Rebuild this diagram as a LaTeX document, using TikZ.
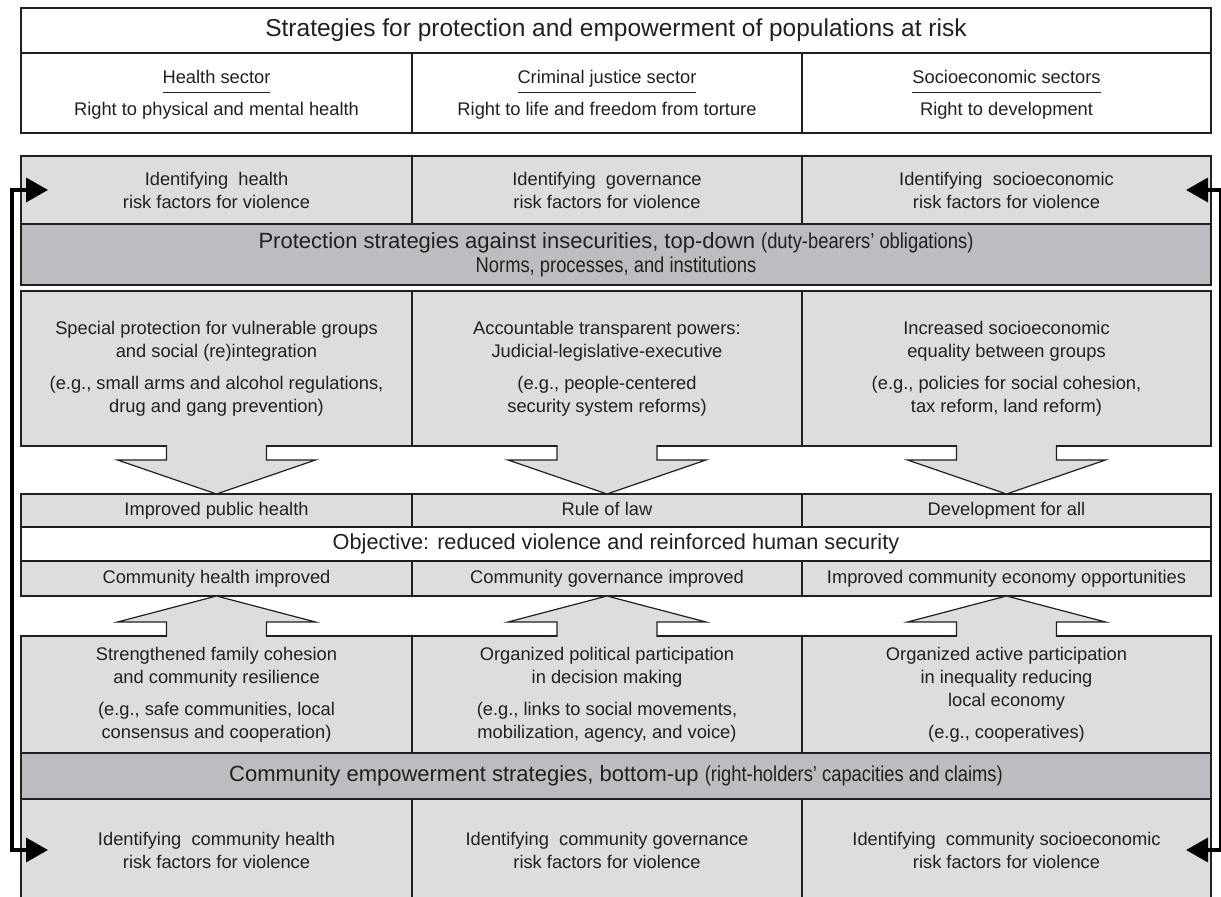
\documentclass[tikz,border=0pt]{standalone}
\usepackage{fontspec}
\setmainfont{Liberation Sans}
\newfontfamily\narrowfont[FakeStretch=0.85]{Liberation Sans}
\usetikzlibrary{arrows.meta,positioning}

\definecolor{cellgray}{RGB}{220,221,223}
\definecolor{bandgray}{RGB}{188,189,192}
\definecolor{ink}{RGB}{35,31,32}

\newcommand{\bodysize}{\fontsize{9.15}{11.5}\selectfont}
\newcommand{\titlesize}{\fontsize{12.25}{14}\selectfont}
\newcommand{\headsize}{\fontsize{11}{13}\selectfont}
\newcommand{\objsize}{\fontsize{10.85}{13}\selectfont}
\newcommand{\narrow}[1]{{\narrowfont\fontsize{10.8}{12}\selectfont #1}}
\newcommand{\sectorhead}[2]{\underline{#1\strut}\\[3pt]#2}

\begin{document}
\begin{tikzpicture}[x=0.5pt,y=-0.5pt,
  every node/.style={text=ink,font=\bodysize,align=center,inner sep=0pt,outer sep=0pt},
  frame/.style={draw=ink,line width=0.8pt,fill=white},
  cell/.style={draw=ink,line width=0.6pt,fill=cellgray},
  oneline/.style={text height=6.6pt,text depth=1.9pt},
  band/.style={draw=ink,line width=0.6pt,fill=bandgray,minimum width=595pt},
  wide/.style={minimum width=595pt},
  colA/.style={minimum width=195.5pt},
  colB/.style={minimum width=195pt},
  colC/.style={minimum width=204.5pt},
  blockarrow/.style={draw=ink,line width=0.6pt,fill=cellgray},
  feedback/.style={line width=1.8pt,{Triangle[length=11pt,width=12pt]}-{Triangle[length=11pt,width=12pt]}}
]
\useasboundingbox (0,0) rectangle (1221,897);

% sectors and the rights behind them
\node[frame,wide,minimum height=22.5pt,anchor=north west,font=\titlesize] (title) at (21,8)
  {Strategies for protection and empowerment of populations at risk};
\node[frame,colA,minimum height=40pt,anchor=north west] (health) at (title.south west)
  {\sectorhead{Health sector}{Right to physical and mental health}};
\node[frame,colB,minimum height=40pt,right=0pt of health] (justice)
  {\sectorhead{Criminal justice sector}{Right to life and freedom from torture}};
\node[frame,colC,minimum height=40pt,right=0pt of justice] (economy)
  {\sectorhead{Socioeconomic sectors}{Right to development}};

% top-down half
\node[cell,colA,minimum height=34pt,anchor=north west] (idhealth) at (21,156)
  {Identifying~ health\\risk factors for violence};
\node[cell,colB,minimum height=34pt,right=0pt of idhealth] (idgov)
  {Identifying~ governance\\risk factors for violence};
\node[cell,colC,minimum height=34pt,right=0pt of idgov] (idsocio)
  {Identifying~ socioeconomic\\risk factors for violence};
\node[band,minimum height=30.5pt,anchor=north west,font=\headsize] (protect) at (idhealth.south west)
  {Protection strategies against insecurities, top-down \narrow{(duty-bearers’ obligations)}\\[-1pt]
   \narrow{Norms, processes, and institutions}};
\node[cell,colA,minimum height=77.5pt,anchor=north west] (special) at (21,291)
  {Special protection for vulnerable groups\\and social (re)integration\\[4.5pt]
   (e.g., small arms and alcohol regulations,\\drug and gang prevention)};
\node[cell,colB,minimum height=77.5pt,right=0pt of special] (powers)
  {Accountable transparent powers:\\Judicial-legislative-executive\\[4.5pt]
   (e.g., people-centered\\security system reforms)};
\node[cell,colC,minimum height=77.5pt,right=0pt of powers] (equality)
  {Increased socioeconomic\\equality between groups\\[4.5pt]
   (e.g., policies for social cohesion,\\tax reform, land reform)};

% outcomes and the common objective
\node[cell,oneline,colA,minimum height=16.5pt,anchor=north west] (pubhealth) at (21,494) {Improved public health};
\node[cell,oneline,colB,minimum height=16.5pt,right=0pt of pubhealth] (rulelaw) {Rule of law};
\node[cell,oneline,colC,minimum height=16.5pt,right=0pt of rulelaw] (devall) {Development for all};
\node[draw=ink,line width=0.6pt,fill=white,wide,minimum height=17pt,anchor=north west,font=\objsize] (objective)
  at (pubhealth.south west) {Objective: reduced violence and reinforced human security};
\node[cell,oneline,colA,minimum height=17.5pt,anchor=north west] (comhealth) at (objective.south west) {Community health improved};
\node[cell,oneline,colB,minimum height=17.5pt,right=0pt of comhealth] (comgov) {Community governance improved};
\node[cell,oneline,colC,minimum height=17.5pt,right=0pt of comgov] (comeco) {Improved community economy opportunities};

% bottom-up half
\node[cell,colA,minimum height=58.5pt,anchor=north west] (cohesion) at (21,636)
  {Strengthened family cohesion\\and community resilience\\[4.5pt]
   (e.g., safe communities, local\\consensus and cooperation)};
\node[cell,colB,minimum height=58.5pt,right=0pt of cohesion] (participation)
  {Organized political participation\\in decision making\\[4.5pt]
   (e.g., links to social movements,\\mobilization, agency, and voice)};
\node[cell,colC,minimum height=58.5pt,right=0pt of participation] (activeeco)
  {Organized active participation\\in inequality reducing\\local economy\\[4.5pt]
   (e.g., cooperatives)};
\node[band,minimum height=23pt,anchor=north west,font=\headsize] (empower) at (cohesion.south west)
  {Community empowerment strategies, bottom-up \narrow{(right-holders’ capacities and claims)}};
\node[cell,colA,minimum height=51pt,anchor=north west] (idcomhealth) at (empower.south west)
  {Identifying~ community health\\risk factors for violence};
\node[cell,colB,minimum height=51pt,right=0pt of idcomhealth] (idcomgov)
  {Identifying~ community governance\\risk factors for violence};
\node[cell,colC,minimum height=51pt,right=0pt of idcomgov] (idcomsocio)
  {Identifying~ community socioeconomic\\risk factors for violence};

% block arrows down to the outcomes
\foreach \n in {special,powers,equality}
  \filldraw[blockarrow] ([xshift=-25pt,yshift=0.4pt]\n.south) -- ++(0,-7.4pt) -- ++(-24.5pt,0)
    -- ++(49.5pt,-17pt) -- ++(49.5pt,17pt) -- ++(-24.5pt,0) -- ++(0,7.4pt);
% and up from the community strategies
\foreach \n in {cohesion,participation,activeeco}
  \filldraw[blockarrow] ([xshift=-25pt,yshift=-0.4pt]\n.north) -- ++(0,7.4pt) -- ++(-24.5pt,0)
    -- ++(49.5pt,13pt) -- ++(49.5pt,-13pt) -- ++(-24.5pt,0) -- ++(0,-7.4pt);

% feedback between community and state risk factors
\draw[feedback] ([xshift=13.5pt]idcomhealth.west) -- ++(-18pt,0) |- ([xshift=13.5pt]idhealth.west);
\draw[feedback] ([xshift=-12.5pt]idcomsocio.east) -- ++(17.5pt,0) |- ([xshift=-12.5pt]idsocio.east);
\end{tikzpicture}
\end{document}
